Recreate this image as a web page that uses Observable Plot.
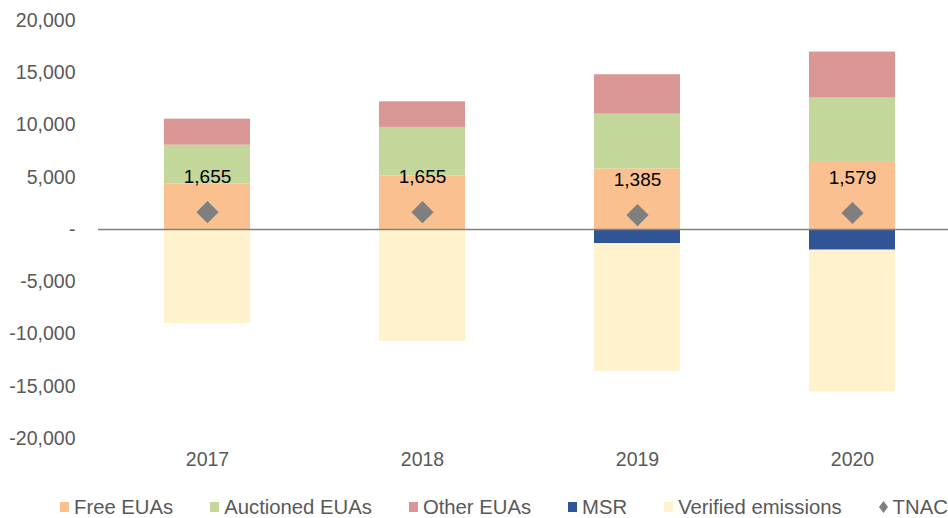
<!DOCTYPE html>
<html>
<head>
<meta charset="utf-8">
<script src="https://cdn.jsdelivr.net/npm/d3@7"></script>
<script src="https://cdn.jsdelivr.net/npm/@observablehq/plot@0.6"></script>
<style>
  html, body { margin: 0; padding: 0; background: #fff; }
  body { position: relative; width: 948px; height: 518px; overflow: hidden;
         font-family: "Liberation Sans", Arial, sans-serif; }
  #legend { position: absolute; top: 495px; left: 60px; height: 24px;
            display: flex; align-items: center; font-size: 20.3px; color: #595959; white-space: nowrap; }
  .item { display: flex; align-items: center; margin-right: 37px; }
  .item:last-child { margin-right: 0; }
  .sw { width: 9px; height: 10px; margin-right: 5px; display: inline-block; }
</style>
</head>
<body>
<div id="chart"></div>
<div id="legend"></div>
<script>
// ---- data ----
const years = ["2017", "2018", "2019", "2020"];
const seriesNames = ["Free EUAs", "Auctioned EUAs", "Other EUAs", "MSR", "Verified emissions"];
const freeEUAs = [4370, 5130, 5800, 6510];
const auctionedEUAs = [3700, 4640, 5240, 6070];
const otherEUAs = [2490, 2450, 3770, 4400];
const msr = [0, 0, -1340, -1980];
const verifiedEmissions = [-9000, -10700, -12230, -13570];
const tnac = [1655, 1655, 1385, 1579];
const yTicks = [-20000, -15000, -10000, -5000, 0, 5000, 10000, 15000, 20000];
const seriesColors = ["#FAC090", "#C4D79B", "#DA9694", "#2F5597", "#FFF2CC"];
const tnacColor = "#7F7F7F";

// ---- build tables ----
const seriesValues = [freeEUAs, auctionedEUAs, otherEUAs, msr, verifiedEmissions];
const rows = [];
seriesNames.forEach((s, si) => {
  years.forEach((y, yi) => {
    const v = seriesValues[si][yi];
    if (v !== 0) rows.push({ year: y, series: s, value: v });
  });
});
const tnacRows = years.map((y, i) => ({ year: y, value: tnac[i] }));

const comma = d3.format(",");
const yFmt = d => d === 0 ? "-" : comma(d).replace("\u2212", "-");

const chart = Plot.plot({
  width: 948,
  height: 480,
  marginLeft: 98,
  marginRight: 0,
  marginTop: 20,
  marginBottom: 42,
  style: { fontFamily: "'Liberation Sans', Arial, sans-serif", fontSize: "19.5px", color: "#595959", background: "#fff", overflow: "hidden" },
  x: { domain: years, range: [98.7, 961.3], paddingInner: 0.6, paddingOuter: 0.3, label: null, tickSize: 0, tickPadding: 14 },
  y: { domain: [-20000, 20000], ticks: yTicks, tickFormat: yFmt, tickSize: 0, tickPadding: 23, label: null },
  color: { domain: seriesNames, range: seriesColors },
  marks: [
    Plot.barY(rows, { x: "year", y: "value", fill: "series" }),
    Plot.ruleY([0], { stroke: "#808080", strokeWidth: 1.6 }),
    Plot.dot(tnacRows, { x: "year", y: "value", symbol: "diamond2", r: 10, fill: tnacColor, stroke: "none" }),
    Plot.text(tnacRows, { x: "year", y: "value", text: d => comma(d.value), dy: -35, fill: "#000", fontSize: 19 })
  ]
});
document.getElementById("chart").appendChild(chart);

// ---- legend ----
const legend = document.getElementById("legend");
seriesNames.forEach((s, i) => {
  const it = document.createElement("div");
  it.className = "item";
  const sw = document.createElement("span");
  sw.className = "sw";
  sw.style.background = seriesColors[i];
  it.appendChild(sw);
  it.appendChild(document.createTextNode(s));
  legend.appendChild(it);
});
const ti = document.createElement("div");
ti.className = "item";
ti.innerHTML = '<svg width="9" height="12" style="margin-right:5px"><path d="M4.5 0 L9 6 L4.5 12 L0 6 Z" fill="' + tnacColor + '"/></svg>TNAC';
legend.appendChild(ti);
</script>
</body>
</html>
